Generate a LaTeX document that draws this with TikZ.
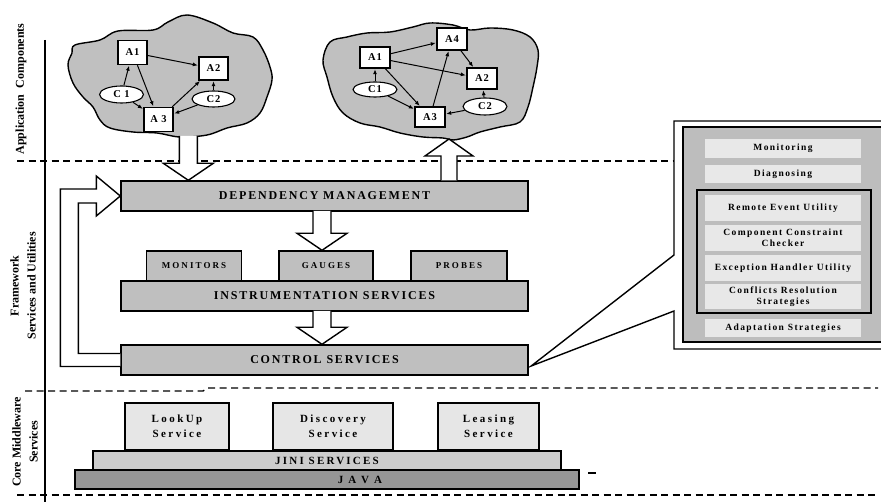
\documentclass[tikz,border=0pt]{standalone}
\usepackage{fontspec}
\setmainfont{Liberation Serif}
\usetikzlibrary{arrows.meta,shapes.geometric,calc}

\definecolor{cloudgray}{RGB}{192,192,192}
\definecolor{boxgray}{RGB}{191,191,191}
\definecolor{jinigray}{RGB}{204,204,204}
\definecolor{javagray}{RGB}{150,150,150}
\definecolor{servlight}{RGB}{230,230,230}
\definecolor{barlight}{RGB}{232,232,232}
\definecolor{panelgray}{RGB}{189,189,189}

\newcommand{\spaced}[1]{\addfontfeature{LetterSpace=#1}}

% hollow block arrows: shaft start, tip
\newcommand{\blockdown}[2]{%
  \draw[blockarr] let \p1=#1, \p2=#2 in
    (\x2-9pt,\y1) -- (\x2-9pt,\y2+17pt) -- (\x2-25pt,\y2+17pt) -- (\x2,\y2)
    -- (\x2+25pt,\y2+17pt) -- (\x2+9pt,\y2+17pt) -- (\x2+9pt,\y1);}
\newcommand{\blockup}[2]{%
  \draw[blockarr] let \p1=#1, \p2=#2 in
    (\x2-8pt,\y1) -- (\x2-8pt,\y2-17pt) -- (\x2-24pt,\y2-17pt) -- (\x2,\y2)
    -- (\x2+24pt,\y2-17pt) -- (\x2+8pt,\y2-17pt) -- (\x2+8pt,\y1);}

\tikzset{
  sidelabel/.style={rotate=90, align=center, inner sep=0pt,
    font=\fontsize{12}{17}\selectfont\bfseries},
  sep/.style={line width=1.4pt, dash pattern=on 7pt off 4.5pt},
  cloudline/.style={line width=1.4pt, fill=cloudgray},
  comp/.style={draw, line width=1.4pt, fill=white, inner sep=0pt,
    minimum width=29pt, minimum height=24pt,
    font=\fontsize{10.5}{12}\selectfont\bfseries\spaced{8}},
  conn/.style={draw, ellipse, line width=1.1pt, fill=white, inner sep=0pt,
    minimum width=44pt, minimum height=16pt,
    font=\fontsize{10.5}{12}\selectfont\bfseries\spaced{8}},
  dep/.style={-{Latex[length=5pt,width=4pt]}, line width=1pt, shorten >=0.5pt},
  blockarr/.style={line width=1.4pt, fill=white},
  layer/.style={draw, line width=1.4pt, fill=boxgray, inner sep=0pt,
    minimum width=407pt, minimum height=30pt,
    font=\fontsize{12}{14}\selectfont\bfseries\spaced{15}},
  tool/.style={draw, line width=1.4pt, fill=boxgray, inner sep=0pt,
    minimum width=95pt, minimum height=30pt,
    font=\fontsize{9}{10}\selectfont\bfseries\spaced{23}},
  panelline/.style={line width=1.4pt},
  bar/.style={fill=barlight, inner sep=0pt, minimum width=156pt, align=center,
    font=\fontsize{9.5}{11.5}\selectfont\bfseries\spaced{15}},
  servbox/.style={draw, line width=1.4pt, fill=servlight, inner sep=0pt,
    minimum height=47pt, align=center,
    font=\fontsize{11}{15}\selectfont\bfseries\spaced{22}},
  base/.style={draw, line width=1.4pt, inner sep=0pt, minimum height=19pt,
    font=\fontsize{11}{12}\selectfont\bfseries\spaced{20}},
}

\begin{document}
\begin{tikzpicture}[x=1pt,y=-1pt]
\path[use as bounding box, fill=white] (0,0) rectangle (881,502);

%layer labels
\node[sidelabel] (applab) at (21,89) {Application\ \ Components};
\node[sidelabel] (fwlab) at (23,286) {Framework\\Services and Utilities};
\node[sidelabel] (corelab) at (25,442) {Core Middleware\\Services};
\draw[line width=1.5pt] (45,40) -- (45,502);

%application cloud 1
\draw[cloudline] plot[smooth cycle, tension=0.6] coordinates {(75,45) (100,40) (118,31)
  (153,30) (168,22) (187,15) (213,23) (233,33) (253,37) (263,50) (270,67) (272,80)
  (267,97) (260,113) (247,123) (227,128) (207,135) (180,137) (157,133) (133,132)
  (110,128) (100,120) (93,107) (83,97) (73,83) (68,65) (72,53)};
\node[comp] (a1) at (132.5,52.5) {A1};
\node[comp, minimum height=23pt] (a2) at (213.5,68.5) {A2};
\node[comp] (a3) at (158.5,119.5) {A 3};
\node[conn, minimum height=17pt] (c1) at (121.5,94.5) {C 1};
\node[conn, minimum width=43pt] (c2) at (213.5,99) {C2};
\draw[dep] (a1) -- (a2);
\draw[dep] (a1) -- (a3);
\draw[dep] (a3) -- (a2);
\draw[dep] (c1) -- (a1);
\draw[dep] (c1) -- (a3);
\draw[dep] (c2) -- (a2);
\draw[dep] (c2) -- (a3);
\coordinate (cloudAbase) at (189,136);

%application cloud 2
\draw[cloudline] plot[smooth cycle, tension=0.6] coordinates {(330,42) (347,37) (367,33)
  (390,32) (413,27) (430,23) (453,25) (470,30) (490,28) (513,30) (530,37) (538,50)
  (537,67) (533,87) (528,107) (520,122) (500,127) (480,132) (467,137) (453,140)
  (443,138) (423,137) (400,133) (380,127) (360,123) (343,113) (333,97) (327,77) (323,60)};
\node[comp, minimum width=30pt, minimum height=21pt] (b1) at (375,57.5) {A1};
\node[comp, minimum width=30pt, minimum height=22pt] (b4) at (452,39) {A4};
\node[comp, minimum width=30pt, minimum height=21pt] (b2) at (482,78.5) {A2};
\node[comp, minimum width=30pt, minimum height=20pt] (b3) at (430,117) {A3};
\node[conn, minimum height=15pt] (d1) at (375,89.5) {C1};
\node[conn, minimum height=17pt] (d2) at (485,106.5) {C2};
\draw[dep] (b1) -- (b4);
\draw[dep] (b1) -- (b2);
\draw[dep] (b1) -- (b3);
\draw[dep] (b3) -- (b4);
\draw[dep] (b4) -- (b2);
\draw[dep] (d1) -- (b1);
\draw[dep] (d1) -- (b3);
\draw[dep] (d2) -- (b2);
\draw[dep] (d2) -- (b3);
\coordinate (cloudBtip) at (449,139);

%layer separators
\draw[sep] (17,161) -- (674,161);
\draw[sep] (25,391) -- (203,391) -- (208,388) -- (878,388);
\draw[sep] (17,495) -- (876,495);

%framework services
\node[layer] (dm) at (324.5,196) {DEPENDENCY MANAGEMENT};
\node[tool] (mon) at (194,266) {MONITORS};
\node[tool, minimum width=94pt] (gau) at (326,266) {GAUGES};
\node[tool, minimum width=96pt] (prb) at (459,266) {PROBES};
\node[layer] (instr) at (324.5,296) {INSTRUMENTATION SERVICES};
\node[layer] (ctrl) at (324.5,360) {CONTROL SERVICES};

\blockdown{(cloudAbase)}{($(dm.north west)+(68,0)$)}
\blockup{($(dm.north west)+(328,0)$)}{(cloudBtip)}
\blockdown{($(dm.south)+(0,-0.7)$)}{($(gau.north)+(-4,0)$)}
\blockdown{($(instr.south)+(0,-0.7)$)}{($(ctrl.north)+(-2.5,0)$)}
%feedback loop
\draw[blockarr] ($(ctrl.west)+(0,-6.5)$) -- ++(-42,0) |- ($(dm.west)+(-24,7)$)
  -- ++(0,13) -- (dm.west) -- ++(-24,-20) -- ++(0,13)
  -| ($(ctrl.west)+(-60,6.5)$) -- ($(ctrl.west)+(0,6.5)$);

%control services detail
\coordinate (calloutTip) at ($(ctrl.east)+(2.5,6)$);
\draw[panelline, fill=white] (890,121) -- (674,121) -- (674,255) -- (calloutTip)
  -- (674,311) -- (674,349) -- (890,349);
\draw[panelline, fill=panelgray] (683,127) rectangle (895,342);
\draw[panelline] (697,190) rectangle (871,313);
\node[bar, minimum height=19pt] (moni) at (783,148.5) {Monitoring};
\node[bar, minimum height=18pt] (diag) at (783,174) {Diagnosing};
\node[bar, minimum height=26pt] (remote) at (783,208) {Remote Event Utility};
\node[bar, minimum height=26pt] (checker) at (783,238) {Component Constraint\\Checker};
\node[bar, minimum height=26pt] (excep) at (783,268) {Exception Handler Utility};
\node[bar, minimum height=25pt] (confl) at (783,296.5) {Conflicts Resolution\\Strategies};
\node[bar, minimum height=18pt] (adapt) at (783,328) {Adaptation Strategies};

%core middleware
\node[servbox, minimum width=104pt] (lookup) at (177,426.5) {LookUp\\Service};
\node[servbox, minimum width=120pt] (disc) at (333,426.5) {Discovery\\Service};
\node[servbox, minimum width=101pt] (leas) at (488.5,426.5) {Leasing\\Service};
\node[base, fill=jinigray, minimum width=468pt] (jini) at (327,460.5) {JINI SERVICES};
\node[base, fill=javagray, minimum width=504pt] (java) at (327,479.5) {};
\node[font=\fontsize{11}{12}\selectfont\bfseries\spaced{20}] (javatxt)
  at ($(java.center)+(33,0)$) {J A V A};
\draw[line width=1.5pt] (588,473) -- (596,473);
\end{tikzpicture}
\end{document}
